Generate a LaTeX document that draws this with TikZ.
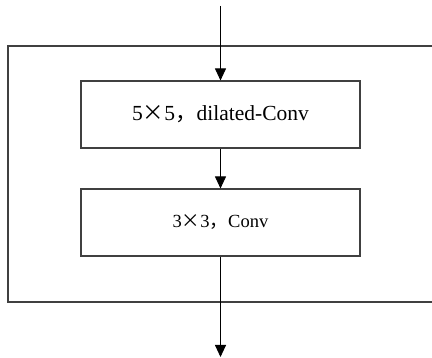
\documentclass[tikz,border=0pt]{standalone}
\usepackage{fontspec}
\setmainfont{Liberation Serif}
\newfontfamily\cjk{Noto Sans CJK SC}
\usepackage{xcolor}
\definecolor{linegray}{gray}{0.25}
\usetikzlibrary{arrows.meta}

\begin{document}
\begin{tikzpicture}[x=1pt, y=-1pt,
    convbox/.style={draw=linegray, line width=1.1pt, minimum width=279pt,
      minimum height=67pt, inner sep=0pt},
    flow/.style={draw=black, line width=0.9pt,
      -{Triangle[length=12pt, width=11pt]}}]
    \useasboundingbox (0,0) rectangle (432,358);

    %  outer frame, open on the right
    \draw [linegray, line width=1.1pt] (432,46) -- (8,46)
      -- (8,302) -- (432,302);

    %  the two convolution blocks
    \node [convbox, font=\fontsize{21.5}{24}\selectfont] (dconv) at (220.5,114.5)
      {5{\cjk ×}5{\cjk ，}dilated-Conv};
    \node [convbox, font=\fontsize{18.5}{21}\selectfont] (conv) at (220.5,222.5)
      {3{\cjk ×}3{\cjk ，}Conv};

    \coordinate (in) at (220.5,6);
    \coordinate (out) at (220.5,357);

    \draw [flow] (in) -- (dconv.north);
    \draw [flow] (dconv.south) -- (conv.north);
    \draw [flow] (conv.south) -- (out);
\end{tikzpicture}
\end{document}
